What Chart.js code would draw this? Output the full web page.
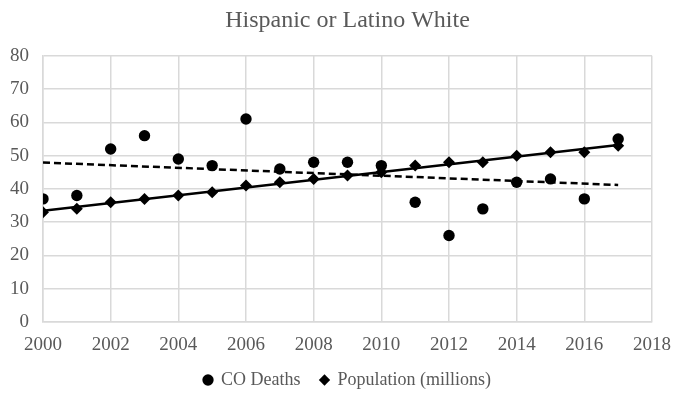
<!DOCTYPE html>
<html>
<head>
<meta charset="utf-8">
<script src="https://cdn.jsdelivr.net/npm/chart.js@4.4.1/dist/chart.umd.min.js"></script>
<style>
  html, body { margin: 0; padding: 0; background: #ffffff; }
  #wrap { width: 673px; height: 393px; position: relative; }
</style>
</head>
<body>
<div id="wrap"><canvas id="c"></canvas></div>
<script>
// Years on the x axis
const years = [2000, 2001, 2002, 2003, 2004, 2005, 2006, 2007, 2008,
               2009, 2010, 2011, 2012, 2013, 2014, 2015, 2016, 2017];
// Carbon monoxide deaths per year
const coDeaths = [37, 38, 52, 56, 49, 47, 61, 46, 48,
                  48, 47, 36, 26, 34, 42, 43, 37, 55];
// Population in millions
const population = [33, 34, 36, 37, 38, 39, 41, 42, 43,
                    44, 45, 47, 48, 48, 50, 51, 51, 53];
// Axis tick settings
const xTickMin = 2000, xTickMax = 2018, xTickStep = 2;
const yTickMin = 0, yTickMax = 80, yTickStep = 10;

const textGray = '#595959';
const gridGray = '#d9d9d9';
const serif = '"Liberation Serif", "DejaVu Serif", serif';

// Least-squares linear trend line across the year range
function trend(xs, ys) {
  const n = xs.length;
  const mx = xs.reduce((a, b) => a + b, 0) / n;
  const my = ys.reduce((a, b) => a + b, 0) / n;
  let sxy = 0, sxx = 0;
  for (let i = 0; i < n; i++) {
    sxy += (xs[i] - mx) * (ys[i] - my);
    sxx += (xs[i] - mx) * (xs[i] - mx);
  }
  const m = sxy / sxx, b = my - m * mx;
  const x0 = xs[0], x1 = xs[n - 1];
  return [{ x: x0, y: b + m * x0 }, { x: x1, y: b + m * x1 }];
}

const pts = (ys) => years.map((y, i) => ({ x: y, y: ys[i] }));

new Chart(document.getElementById('c'), {
  type: 'scatter',
  data: {
    datasets: [
      {
        label: 'CO Deaths',
        data: pts(coDeaths),
        pointStyle: 'circle',
        pointRadius: 5.7,
        pointHoverRadius: 5.7,
        backgroundColor: '#000000',
        borderColor: '#000000',
        borderWidth: 0,
        order: 2
      },
      {
        label: 'Population (millions)',
        data: pts(population),
        pointStyle: 'rectRot',
        pointRadius: 6,
        pointHoverRadius: 6,
        backgroundColor: '#000000',
        borderColor: '#000000',
        borderWidth: 0,
        order: 2
      },
      {
        label: 'trend-deaths',
        type: 'line',
        data: trend(years, coDeaths),
        showLine: true,
        pointRadius: 0,
        borderColor: '#000000',
        borderWidth: 2.5,
        borderDash: [7, 4],
        fill: false,
        order: 1
      },
      {
        label: 'trend-population',
        type: 'line',
        data: trend(years, population),
        showLine: true,
        pointRadius: 0,
        borderColor: '#000000',
        borderWidth: 2.5,
        fill: false,
        order: 1
      }
    ]
  },
  options: {
    responsive: true,
    maintainAspectRatio: false,
    animation: false,
    layout: { padding: { left: 0, right: 0, top: 4, bottom: -6 } },
    plugins: {
      title: {
        display: true,
        fullSize: false,
        text: 'Hispanic or Latino White',
        color: textGray,
        font: { family: serif, size: 24, weight: 'normal' },
        padding: { top: 2, bottom: 21 }
      },
      legend: {
        position: 'bottom',
        fullSize: false,
        labels: {
          filter: (item) => !item.text.startsWith('trend'),
          usePointStyle: true,
          boxWidth: 8,
          boxHeight: 8,
          color: textGray,
          font: { family: serif, size: 18 },
          padding: 20
        }
      },
      tooltip: { enabled: false }
    },
    scales: {
      x: {
        type: 'linear',
        min: xTickMin,
        max: xTickMax,
        afterFit: (scale) => {
          scale.paddingLeft = 0;
          scale.paddingRight = 21;
          scale.height = 29;
        },
        ticks: {
          stepSize: xTickStep,
          color: textGray,
          font: { family: serif, size: 19 },
          padding: 12,
          callback: (v) => String(v)
        },
        grid: { color: gridGray, lineWidth: 1.5, drawTicks: false },
        border: { color: gridGray, width: 1.5 }
      },
      y: {
        min: yTickMin,
        max: yTickMax,
        afterFit: (scale) => { scale.width = 43; },
        ticks: {
          stepSize: yTickStep,
          color: textGray,
          font: { family: serif, size: 19 },
          padding: 14
        },
        grid: { color: gridGray, lineWidth: 1.5, drawTicks: false },
        border: { color: gridGray, width: 1.5 }
      }
    }
  }
});
</script>
</body>
</html>
